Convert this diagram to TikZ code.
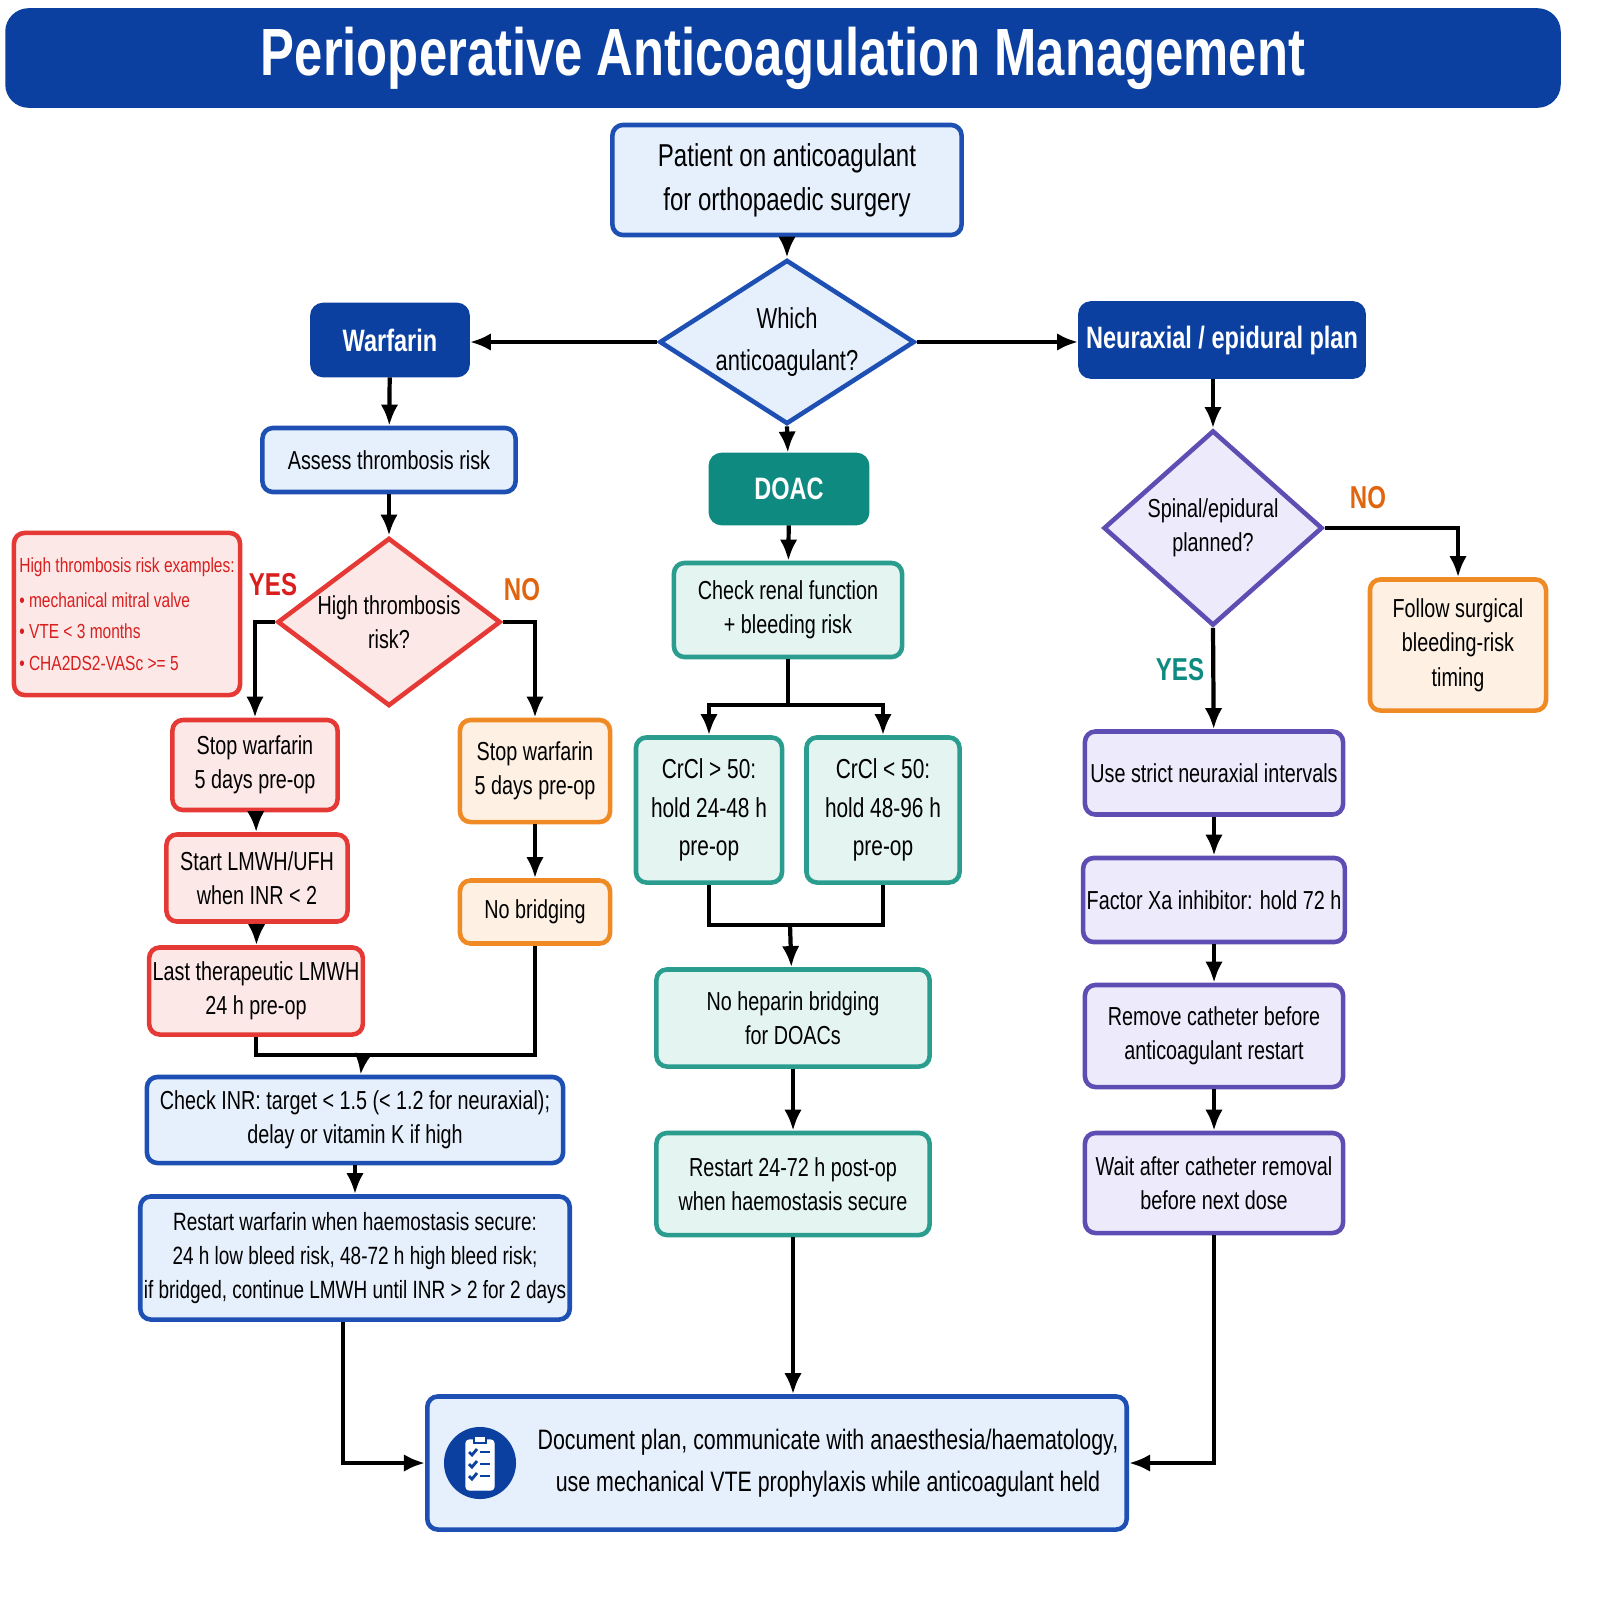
\documentclass[tikz,border=0pt]{standalone}
\usepackage{fontspec}
\setmainfont{Liberation Sans}[FakeStretch=0.76]
\usetikzlibrary{shapes.geometric,positioning,arrows.meta}
\definecolor{navy}{HTML}{0B3FA0}
\definecolor{bbord}{HTML}{1E50B4}\definecolor{bfill}{HTML}{E6F0FC}
\definecolor{rbord}{HTML}{E53935}\definecolor{rfill}{HTML}{FDE8E8}
\definecolor{obord}{HTML}{F08A24}\definecolor{ofill}{HTML}{FEF1E3}
\definecolor{tbord}{HTML}{2A9D8F}\definecolor{tfill}{HTML}{E3F4F1}
\definecolor{tdark}{HTML}{0E8A80}
\definecolor{pbord}{HTML}{5E4DB2}\definecolor{pfill}{HTML}{EDEAFB}
\definecolor{redtxt}{HTML}{D91E1E}\definecolor{oratxt}{HTML}{E0650F}
\tikzset{
  box/.style={draw,rounded corners=3pt,line width=1.3pt,align=center,inner sep=1pt,
    font=\fontsize{7.4}{9.8}\selectfont},
  bluebox/.style={box,draw=bbord,fill=bfill},
  redbox/.style={box,draw=rbord,fill=rfill},
  orabox/.style={box,draw=obord,fill=ofill},
  tealbox/.style={box,draw=tbord,fill=tfill},
  purbox/.style={box,draw=pbord,fill=pfill},
  head/.style={box,draw=navy,fill=navy,text=white,font=\bfseries\fontsize{8.8}{10}\selectfont},
  decision/.style={diamond,draw,line width=1.3pt,align=center,aspect=1.5,inner sep=0pt,
    font=\fontsize{7.4}{9.8}\selectfont},
  flow/.style={line width=1.2pt,-{Latex[length=6pt,width=5pt]}},
  joint/.style={line width=1.2pt},
  tag/.style={font=\bfseries\fontsize{9}{11}\selectfont}
}
\begin{document}
\begin{tikzpicture}[x=0.01cm,y=-0.01cm]
\useasboundingbox (0,0) rectangle (1600,1600);
% title
\node [head,rounded corners=6pt,minimum width=15.5cm,minimum height=0.95cm,
  font=\bfseries\fontsize{19}{22}\selectfont] (title) at (783,58) {Perioperative Anticoagulation Management};
% top
\node [bluebox,minimum width=3.49cm,minimum height=1.1cm,font=\fontsize{9}{12.5}\selectfont] (patient) at (787,180)
  {Patient on anticoagulant\\for orthopaedic surgery};
\node [decision,draw=bbord,fill=bfill,minimum width=2.55cm,minimum height=1.4cm,font=\fontsize{8.2}{12}\selectfont] (which) at (787,342)
  {Which\\anticoagulant?};
\node [head,minimum width=1.55cm,minimum height=0.7cm] (warfarin) at (390,340) {Warfarin};
\node [head,minimum width=2.83cm,minimum height=0.73cm] (neuro) at (1222,340) {Neuraxial / epidural plan};
\node [head,draw=tdark,fill=tdark,minimum width=1.56cm,minimum height=0.68cm] (doac) at (789,489) {DOAC};
% warfarin branch
\node [bluebox,minimum width=2.53cm,minimum height=0.64cm] (assess) at (389,460) {Assess thrombosis risk};
\node [decision,draw=rbord,fill=rfill,minimum width=2.05cm,minimum height=1.68cm] (highrisk) at (389,622)
  {High thrombosis\\risk?};
\node [redbox,text=redtxt,align=left,minimum width=2.26cm,minimum height=1.62cm,
  font=\fontsize{5.8}{9}\selectfont] (examples) at (127,614)
  {High thrombosis risk examples:\\[1pt]\textbullet\ mechanical mitral valve\\\textbullet\ VTE < 3 months\\\textbullet\ CHA2DS2-VASc >= 5};
\node [tag,text=redtxt] (yes1) at (273,585) {YES};
\node [tag,text=oratxt] (no1) at (522,590) {NO};
\node [redbox,minimum width=1.65cm,minimum height=0.9cm] (stopw) at (255,765) {Stop warfarin\\5 days pre-op};
\node [redbox,minimum width=1.81cm,minimum height=0.87cm] (startl) at (257,878) {Start LMWH/UFH\\when INR < 2};
\node [redbox,minimum width=2.11cm,minimum height=0.87cm] (lastl) at (256,991) {Last therapeutic LMWH\\24 h pre-op};
\node [orabox,minimum width=1.5cm,minimum height=1.02cm] (stopo) at (535,771) {Stop warfarin\\5 days pre-op};
\node [orabox,minimum width=1.5cm,minimum height=0.63cm] (nobridge) at (535,912) {No bridging};
\node [bluebox,minimum width=4.16cm,minimum height=0.86cm] (inr) at (355,1120)
  {Check INR: target < 1.5 (< 1.2 for neuraxial);\\delay or vitamin K if high};
\node [bluebox,minimum width=4.16cm,minimum height=1.23cm,font=\fontsize{7.1}{9.8}\selectfont] (restartw) at (355,1258)
  {Restart warfarin when haemostasis secure:\\24 h low bleed risk, 48-72 h high bleed risk;\\if bridged, continue LMWH until INR > 2 for 2 days};
% DOAC branch
\node [tealbox,minimum width=2.28cm,minimum height=0.94cm] (renal) at (788,610) {Check renal function\\+ bleeding risk};
\node [tealbox,minimum width=1.46cm,minimum height=1.45cm,font=\fontsize{7.8}{11}\selectfont] (crhi) at (709,810) {CrCl > 50:\\hold 24-48 h\\pre-op};
\node [tealbox,minimum width=1.53cm,minimum height=1.45cm,font=\fontsize{7.8}{11}\selectfont] (crlo) at (883,810) {CrCl < 50:\\hold 48-96 h\\pre-op};
\node [tealbox,minimum width=2.73cm,minimum height=0.97cm] (noheparin) at (793,1018) {No heparin bridging\\for DOACs};
\node [tealbox,minimum width=2.73cm,minimum height=1.02cm] (restartd) at (793,1184) {Restart 24-72 h post-op\\when haemostasis secure};
% neuraxial branch
\node [decision,draw=pbord,fill=pfill,minimum width=2.18cm,minimum height=1.95cm] (spinal) at (1213,528)
  {Spinal/epidural\\planned?};
\node [tag,text=oratxt] (no2) at (1368,498) {NO};
\node [tag,text=tdark] (yes2) at (1180,670) {YES};
\node [orabox,minimum width=1.76cm,minimum height=1.31cm] (follow) at (1458,645) {Follow surgical\\bleeding-risk\\timing};
\node [purbox,minimum width=2.58cm,minimum height=0.83cm] (strict) at (1214,773) {Use strict neuraxial intervals};
\node [purbox,minimum width=2.58cm,minimum height=0.84cm] (factorxa) at (1214,900) {Factor Xa inhibitor: hold 72 h};
\node [purbox,minimum width=2.58cm,minimum height=1.02cm] (removec) at (1214,1036) {Remove catheter before\\anticoagulant restart};
\node [purbox,minimum width=2.58cm,minimum height=1.0cm] (waitc) at (1214,1183) {Wait after catheter removal\\before next dose};
% final
\node [bluebox,minimum width=6.99cm,minimum height=1.33cm] (document) at (777,1463) {};
\node [align=center,font=\fontsize{8}{12}\selectfont] (doctext) at (828,1463)
  {Document plan, communicate with anaesthesia/haematology,\\use mechanical VTE prophylaxis while anticoagulant held};
\node [circle,fill=navy,minimum size=0.72cm] (icon) at (480,1463) {};
\draw [white,fill=white,rounded corners=1pt] (466,1440) rectangle (494,1490);
\draw [navy,fill=white,line width=0.8pt] (474,1436) rectangle (486,1443);
\foreach \yy in {1452,1464,1476}{
  \draw [navy,line width=0.8pt] (469,\yy) -- (472,\yy+3) -- (477,\yy-3);
  \draw [navy,line width=0.8pt] (480,\yy) -- (490,\yy);
}
% connectors
\draw [flow] (patient) -- (which);
\draw [flow] (which.west) -- (which.west -| warfarin.east);
\draw [flow] (which.east) -- (which.east -| neuro.west);
\draw [flow] (which.south) -- (doac);
\draw [flow] (warfarin) -- (assess);
\draw [flow] (assess) -- (highrisk);
\draw [flow] (highrisk.west) -| (stopw.north);
\draw [flow] (highrisk.east) -| (stopo.north);
\draw [flow] (stopw) -- (startl);
\draw [flow] (startl) -- (lastl);
\draw [flow] (stopo) -- (nobridge);
\coordinate (wjoin) at (363,1055);
\draw [joint] (lastl.south) |- (wjoin) -| (nobridge.south);
\draw [flow] (wjoin) -- (inr);
\draw [flow] (inr) -- (restartw);
\draw [flow] (restartw.south -| 343,0) |- (document.west);
\draw [flow] (doac) -- (renal);
\coordinate (dsplit) at (788,705);
\draw [joint] (renal) -- (dsplit);
\draw [flow] (dsplit) -| (crhi.north);
\draw [flow] (dsplit) -| (crlo.north);
\coordinate (djoin) at (790,925);
\draw [joint] (crhi.south) |- (djoin) -| (crlo.south);
\draw [flow] (djoin) -- (noheparin);
\draw [flow] (noheparin) -- (restartd);
\draw [flow] (restartd.south) -- (restartd.south |- document.north);
\draw [flow] (neuro.south -| spinal) -- (spinal);
\draw [flow] (spinal.east) -| (follow.north);
\draw [flow] (spinal.south) -- (strict);
\draw [flow] (strict) -- (factorxa);
\draw [flow] (factorxa) -- (removec);
\draw [flow] (removec) -- (waitc);
\draw [flow] (waitc.south) |- (document.east);
\end{tikzpicture}
\end{document}
